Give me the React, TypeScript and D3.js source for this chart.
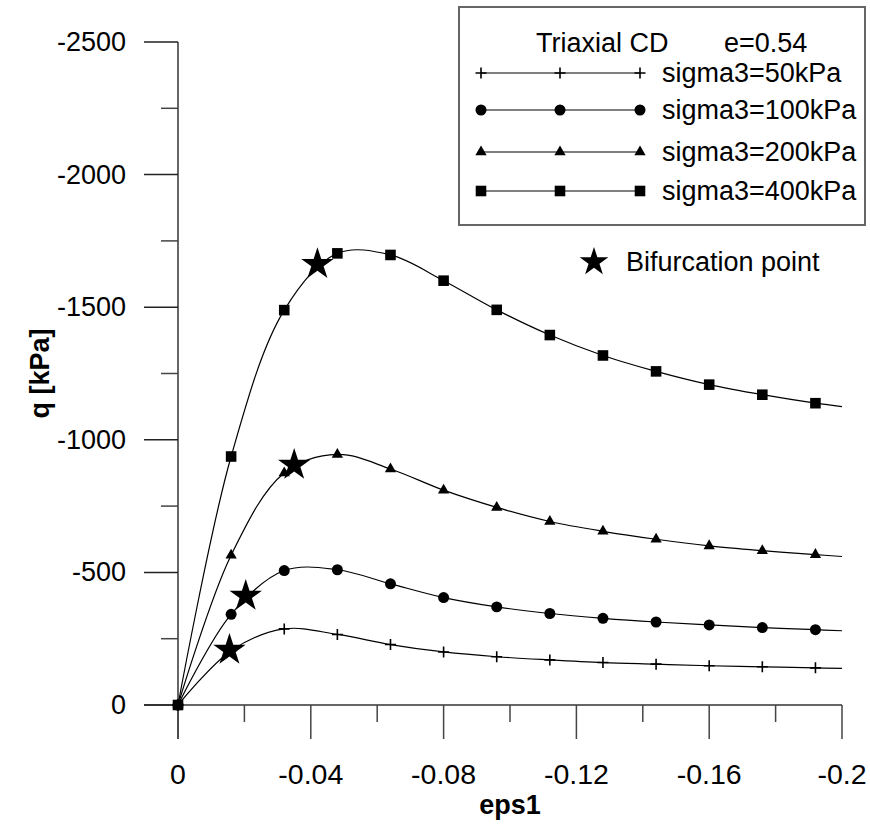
import React from "react";
import * as d3 from "d3";

// strain values (eps1) at the markers; the last entry is the curve end (no marker)
const eps = [0, -0.016, -0.032, -0.048, -0.064, -0.08, -0.096, -0.112, -0.128, -0.144, -0.16, -0.176, -0.192, -0.2];
const markerCount = 13;

const q50 = [0, -205, -287, -266, -228, -200, -182, -170, -160, -154, -148, -144, -140, -138];
const q100 = [0, -342, -507, -510, -457, -405, -370, -345, -327, -313, -302, -292, -284, -280];
const q200 = [0, -565, -875, -945, -890, -810, -745, -692, -655, -625, -600, -582, -567, -560];
const q400 = [0, -937, -1489, -1703, -1697, -1600, -1490, -1395, -1318, -1258, -1208, -1170, -1138, -1125];

const seriesNames = ["sigma3=50kPa", "sigma3=100kPa", "sigma3=200kPa", "sigma3=400kPa"];
const seriesMarkers = ["plus", "circle", "triangle", "square"];

// bifurcation points
const bifEps = [-0.0155, -0.0204, -0.035, -0.042];
const bifQ = [-207, -411, -905, -1662];

const xTicks = [0, -0.04, -0.08, -0.12, -0.16, -0.2];
const xTickLabels = ["0", "-0.04", "-0.08", "-0.12", "-0.16", "-0.2"];
const xMinorTicks = [-0.02, -0.06, -0.1, -0.14, -0.18];
const yTicks = [0, -500, -1000, -1500, -2000, -2500];
const yTickLabels = ["0", "-500", "-1000", "-1500", "-2000", "-2500"];
const yMinorTicks = [-250, -750, -1250, -1750, -2250];

const FONT = "'Liberation Sans', Arial, Helvetica, sans-serif";

function Marker({ type, x, y }: { type: string; x: number; y: number }) {
  if (type === "plus") {
    return (
      <path
        d={`M${x - 5.5},${y}H${x + 5.5}M${x},${y - 5.5}V${y + 5.5}`}
        stroke="#000"
        strokeWidth={1.6}
        fill="none"
      />
    );
  }
  const sym =
    type === "circle" ? d3.symbolCircle : type === "triangle" ? d3.symbolTriangle : d3.symbolSquare;
  const size = type === "circle" ? 95 : type === "triangle" ? 55 : 112;
  const d = d3.symbol().type(sym).size(size)() as string;
  return <path d={d} transform={`translate(${x},${y})`} fill="#000" />;
}

export default function App() {
  const x = d3.scaleLinear().domain([0, -0.2]).range([178, 842]);
  const y = d3.scaleLinear().domain([0, -2500]).range([705, 42]);
  const allSeries = [q50, q100, q200, q400];

  const line = d3
    .line<number>()
    .x((_, i) => x(eps[i]))
    .y((d) => y(d))
    .curve(d3.curveCatmullRom.alpha(0.5));

  const starBig = d3.symbol().type(d3.symbolStar).size(325)() as string;
  const starSmall = d3.symbol().type(d3.symbolStar).size(255)() as string;

  const legendRows = [73, 110, 152, 191];

  return (
    <svg
      width={870}
      height={825}
      style={{ position: "absolute", left: 0, top: 0, background: "#fff" }}
      fontFamily={FONT}
    >
      <rect x={0} y={0} width={870} height={825} fill="#fff" />
      {/* axes */}
      <line x1={x(0)} y1={y(-2500)} x2={x(0)} y2={y(0) + 34} stroke="#666" strokeWidth={2} />
      <line x1={x(0) - 34} y1={y(0)} x2={x(-0.2)} y2={y(0)} stroke="#666" strokeWidth={2} />
      {yTicks.map((t, i) => (
        <g key={"yt" + i}>
          <line x1={x(0) - 34} x2={x(0)} y1={y(t)} y2={y(t)} stroke="#222" strokeWidth={1.5} />
          <text x={126} y={y(t)} textAnchor="end" dominantBaseline="central" fontSize={27} fill="#000">
            {yTickLabels[i]}
          </text>
        </g>
      ))}
      {yMinorTicks.map((t, i) => (
        <line key={"ym" + i} x1={x(0) - 17} x2={x(0)} y1={y(t)} y2={y(t)} stroke="#444" strokeWidth={1.5} />
      ))}
      {xTicks.map((t, i) => (
        <g key={"xt" + i}>
          <line x1={x(t)} x2={x(t)} y1={y(0)} y2={y(0) + 34} stroke="#444" strokeWidth={1.5} />
          <text x={x(t)} y={784} textAnchor="middle" fontSize={28.5} fill="#000">
            {xTickLabels[i]}
          </text>
        </g>
      ))}
      {xMinorTicks.map((t, i) => (
        <line key={"xm" + i} x1={x(t)} x2={x(t)} y1={y(0)} y2={y(0) + 17} stroke="#444" strokeWidth={1.5} />
      ))}
      <text x={510} y={814} textAnchor="middle" fontSize={27} fontWeight="bold" fill="#000">
        eps1
      </text>
      <text
        transform={`translate(49,${(y(0) + y(-2500)) / 2}) rotate(-90)`}
        textAnchor="middle"
        fontSize={27}
        fontWeight="bold"
        fill="#000"
      >
        q [kPa]
      </text>

      {/* series */}
      {allSeries.map((s, si) => (
        <g key={"s" + si}>
          <path d={line(s) as string} fill="none" stroke="#000" strokeWidth={1.2} />
          {s.slice(0, markerCount).map((v, i) => (
            <Marker key={i} type={seriesMarkers[si]} x={x(eps[i])} y={y(v)} />
          ))}
        </g>
      ))}

      {/* bifurcation stars */}
      {bifEps.map((e, i) => (
        <path key={"b" + i} d={starBig} transform={`translate(${x(e)},${y(bifQ[i])})`} fill="#000" />
      ))}

      {/* legend */}
      <rect x={459} y={7} width={406} height={218} fill="#fff" stroke="#666" strokeWidth={2} />
      <text x={536} y={52} fontSize={27} fill="#000">
        Triaxial CD
      </text>
      <text x={724} y={52} fontSize={27} fill="#000">
        e=0.54
      </text>
      {seriesNames.map((name, i) => (
        <g key={"l" + i}>
          <line x1={481} x2={640} y1={legendRows[i]} y2={legendRows[i]} stroke="#000" strokeWidth={1.2} />
          {[481, 560, 640].map((mx, k) => (
            <Marker key={k} type={seriesMarkers[i]} x={mx} y={legendRows[i]} />
          ))}
          <text x={662} y={legendRows[i]} dominantBaseline="central" fontSize={27} fill="#000">
            {name}
          </text>
        </g>
      ))}
      <path d={starSmall} transform="translate(594,262)" fill="#000" />
      <text x={626} y={262} dominantBaseline="central" fontSize={27} fill="#000">
        Bifurcation point
      </text>
    </svg>
  );
}
